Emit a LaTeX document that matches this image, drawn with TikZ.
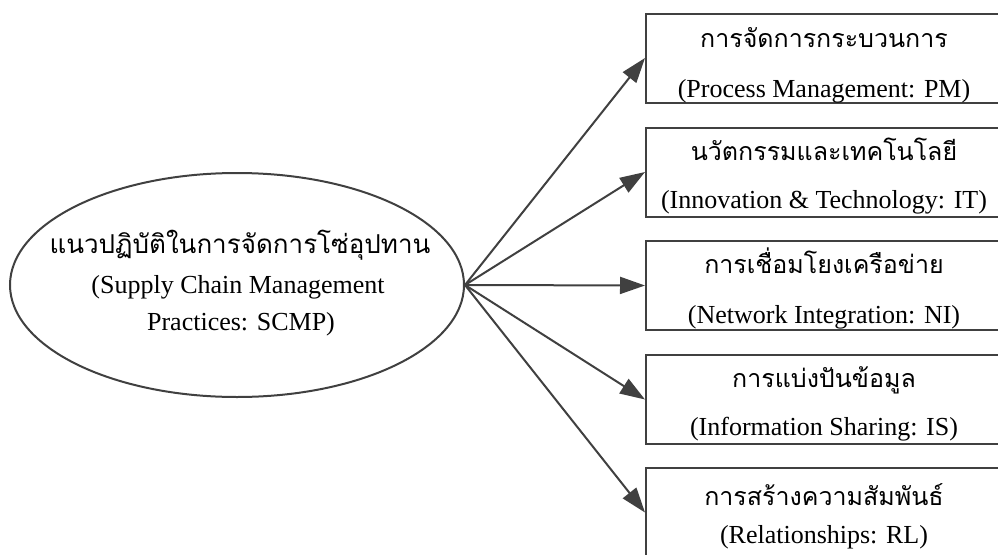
\documentclass[tikz,border=0pt]{standalone}
\usepackage{fontspec}
\setmainfont{Liberation Serif}
\newfontfamily\thaifont[Script=Thai]{Loma}
\usetikzlibrary{arrows.meta,shapes.geometric}
\definecolor{linegray}{HTML}{404040}
\begin{document}
\begin{tikzpicture}[x=1pt,y=-1pt,
  box/.style={draw=linegray,line width=2pt,minimum width=356pt,minimum height=89pt,inner sep=0pt,anchor=west},
  oval/.style={ellipse,draw=linegray,line width=2pt,minimum width=454pt,minimum height=224pt,inner sep=0pt},
  arr/.style={draw=linegray,line width=2pt,-{Triangle[length=25pt,width=17pt]}},
  th/.style={font=\thaifont\fontsize{25}{29}\selectfont,anchor=base,inner sep=0pt},
  thbig/.style={th,font=\thaifont\fontsize{26}{30}\selectfont},
  en/.style={font=\fontsize{26}{30}\selectfont,anchor=base,inner sep=0pt}]
\useasboundingbox (0,0) rectangle (998,554);
\clip (0,0) rectangle (998,554);

% central concept
\node[oval] (scmp) at (237,285) {};
\node[thbig] (scmp1) at (240,253) {แนวปฏิบัติในการจัดการโซ่อุปทาน};
\node[en] (scmp2) at (238,293) {(Supply Chain Management};
\node[en] (scmp3) at (241,330) {Practices: SCMP)};

% practice dimensions
\node[box] (pm) at (645,58) {};
\node[box] (it) at (645,172) {};
\node[box] (ni) at (645,285.5) {};
\node[box] (is) at (645,399.5) {};
\node[box] (rl) at (645,512.5) {};

\node[th] (pm1) at ([yshift=11pt]pm.center) {การจัดการกระบวนการ};
\node[en] (pm2) at ([yshift=-39pt]pm.center) {(Process Management: PM)};
\node[th] (it1) at ([yshift=12pt]it.center) {นวัตกรรมและเทคโนโลยี};
\node[en] (it2) at ([yshift=-36pt]it.center) {(Innovation \& Technology: IT)};
\node[th] (ni1) at ([yshift=12pt]ni.center) {การเชื่อมโยงเครือข่าย};
\node[en] (ni2) at ([yshift=-37.5pt]ni.center) {(Network Integration: NI)};
\node[th] (is1) at ([yshift=12pt]is.center) {การแบ่งปันข้อมูล};
\node[en] (is2) at ([yshift=-36pt]is.center) {(Information Sharing: IS)};
\node[th] (rl1) at ([yshift=7pt]rl.center) {การสร้างความสัมพันธ์};
\node[en] (rl2) at ([yshift=-31pt]rl.center) {(Relationships: RL)};

% links
\foreach \t in {pm,it,ni,is,rl}
  \draw[arr] (scmp.east) -- (\t.west);
\end{tikzpicture}
\end{document}
